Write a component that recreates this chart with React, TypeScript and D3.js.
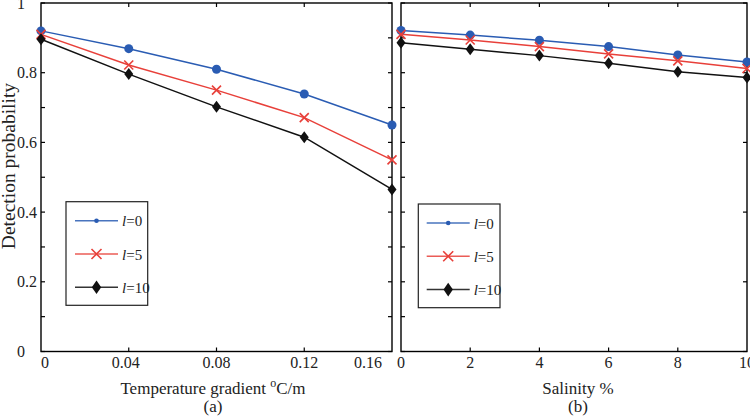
import React from "react";
import * as d3 from "d3";

const tempX = [0, 0.04, 0.08, 0.12, 0.16];
const tempL0 = [0.92, 0.869, 0.81, 0.739, 0.65];
const tempL5 = [0.91, 0.822, 0.75, 0.671, 0.55];
const tempL10 = [0.896, 0.796, 0.702, 0.615, 0.465];

const salX = [0, 2, 4, 6, 8, 10];
const salL0 = [0.921, 0.908, 0.893, 0.875, 0.851, 0.831];
const salL5 = [0.91, 0.894, 0.875, 0.854, 0.834, 0.812];
const salL10 = [0.886, 0.867, 0.849, 0.827, 0.803, 0.786];

const seriesNames = ["0", "5", "10"];
const yTickLabels = [0, 0.2, 0.4, 0.6, 0.8, 1];
const yMinorTicks = [0, 0.1, 0.2, 0.3, 0.4, 0.5, 0.6, 0.7, 0.8, 0.9, 1];
const tempTickLabels = ["0", "0.04", "0.08", "0.12", "0.16"];
const salTickLabels = ["0", "2", "4", "6", "8", "10"];

const COLORS = ["#2a5cb3", "#e8403a", "#111111"];
const FONT = "Liberation Serif, Times New Roman, Times, DejaVu Serif, serif";

const TOP = 3;
const BOTTOM = 351.5;

function Marker({ kind, x, y, legend }: { kind: number; x: number; y: number; legend?: boolean }) {
  if (kind === 0) {
    return <circle cx={x} cy={y} r={legend ? 2.3 : 4.5} fill={COLORS[0]} />;
  }
  if (kind === 1) {
    const s = legend ? 5 : 4.5;
    return (
      <path
        d={`M${x - s},${y - s}L${x + s},${y + s}M${x - s},${y + s}L${x + s},${y - s}`}
        stroke={COLORS[1]}
        strokeWidth={1.6}
        fill="none"
      />
    );
  }
  const w = legend ? 4.7 : 4.5;
  const h = legend ? 6.8 : 6;
  return <path d={`M${x},${y - h}L${x + w},${y}L${x},${y + h}L${x - w},${y}Z`} fill={COLORS[2]} />;
}

function Panel({
  x0,
  x1,
  xs,
  series,
  xDomain,
  tickLabels,
  labelOffsets,
  showYLabels,
  rightTicks,
  legendBox,
  legendPad,
  xTitle,
  sub,
  titleCx,
}: any) {
  const x = d3.scaleLinear().domain(xDomain).range([x0, x1]);
  const y = d3.scaleLinear().domain([0, 1]).range([BOTTOM, TOP]);
  const line = d3
    .line<number>()
    .x((_, i) => x(xs[i]))
    .y((d) => y(d));
  const tl = 4;
  const [lx, ly, lw, lh] = legendBox;
  const ts = { fontFamily: FONT };
  return (
    <g>
      <rect x={x0} y={TOP} width={x1 - x0} height={BOTTOM - TOP} fill="none" stroke="#000" strokeWidth={1.4} />
      {xs.map((v: number, i: number) =>
        i > 0 && i < xs.length - 1 ? (
          <g key={"xt" + i}>
            <line x1={x(v)} x2={x(v)} y1={BOTTOM} y2={BOTTOM - tl} stroke="#000" strokeWidth={1.2} />
            <line x1={x(v)} x2={x(v)} y1={TOP} y2={TOP + tl} stroke="#000" strokeWidth={1.2} />
          </g>
        ) : null
      )}
      {yMinorTicks.map((v, i) => (
        <g key={"yt" + i}>
          <line x1={x0} x2={x0 + tl} y1={y(v)} y2={y(v)} stroke="#000" strokeWidth={1.2} />
          {(rightTicks === "all" || Math.round(v * 10) % 2 === 0) && (
            <line x1={x1} x2={x1 - tl} y1={y(v)} y2={y(v)} stroke="#000" strokeWidth={1.2} />
          )}
        </g>
      ))}
      {xs.map((v: number, i: number) => (
        <text
          key={"xl" + i}
          x={x(v) + labelOffsets[i]}
          y={368}
          textAnchor="middle"
          style={ts}
          fontSize={16}
          fill="#222"
        >
          {tickLabels[i]}
        </text>
      ))}
      {showYLabels &&
        yTickLabels.map((v, i) => (
          <text key={"yl" + i} x={17} y={y(v) + 5.5} style={ts} fontSize={16} fill="#222">
            {String(v)}
          </text>
        ))}
      {series.map((vals: number[], si: number) => (
        <g key={"s" + si}>
          <path d={line(vals) || ""} fill="none" stroke={COLORS[si]} strokeWidth={1.5} />
          {vals.map((v, i) => (
            <Marker key={i} kind={si} x={x(xs[i])} y={y(v)} />
          ))}
        </g>
      ))}
      <rect x={lx} y={ly} width={lw} height={lh} fill="#fff" stroke="#222" strokeWidth={1.2} />
      {seriesNames.map((n, i) => {
        const yy = ly + 19 + i * 33.3;
        const a = lx + legendPad;
        const b = a + 43;
        return (
          <g key={"lg" + i}>
            <line x1={a} x2={b} y1={yy} y2={yy} stroke={COLORS[i]} strokeWidth={1.5} opacity={0.85} />
            <Marker kind={i} x={(a + b) / 2} y={yy} legend />
            <text x={b + 4} y={yy + 5.5} style={ts} fontSize={15} fill="#222">
              <tspan fontStyle="italic">l</tspan>={n}
            </text>
          </g>
        );
      })}
      <text x={titleCx} y={394} textAnchor="middle" style={ts} fontSize={17} fill="#222">
        {xTitle}
      </text>
      <text x={titleCx} y={412} textAnchor="middle" style={ts} fontSize={17} fill="#222">
        {sub}
      </text>
    </g>
  );
}

export default function App() {
  return (
    <svg width={750} height={419} style={{ position: "absolute", left: 0, top: 0, background: "#fff" }}>
      <rect width={750} height={419} fill="#fff" />
      <Panel
        x0={41}
        x1={392}
        xs={tempX}
        series={[tempL0, tempL5, tempL10]}
        xDomain={[0, 0.16]}
        tickLabels={tempTickLabels}
        labelOffsets={[4, -3, 0, 0, -24]}
        showYLabels
        rightTicks="all"
        legendBox={[66, 201.7, 81.7, 103.6]}
        legendPad={9}
        xTitle={
          <>
            Temperature gradient <tspan dy={-7} fontSize={12}>o</tspan>
            <tspan dy={7}>C/m</tspan>
          </>
        }
        sub="(a)"
        titleCx={213}
      />
      <Panel
        x0={401}
        x1={747}
        xs={salX}
        series={[salL0, salL5, salL10]}
        xDomain={[0, 10]}
        tickLabels={salTickLabels}
        labelOffsets={[0, 0, 0, 0, 0, 0]}
        showYLabels={false}
        rightTicks="major"
        legendBox={[418.3, 204, 81.7, 103.7]}
        legendPad={8.4}
        xTitle="Salinity %"
        sub="(b)"
        titleCx={578}
      />
      <text
        transform="translate(14.5,166) rotate(-90)"
        textAnchor="middle"
        style={{ fontFamily: FONT }}
        fontSize={19.5}
        fill="#222"
      >
        Detection probability
      </text>
    </svg>
  );
}
